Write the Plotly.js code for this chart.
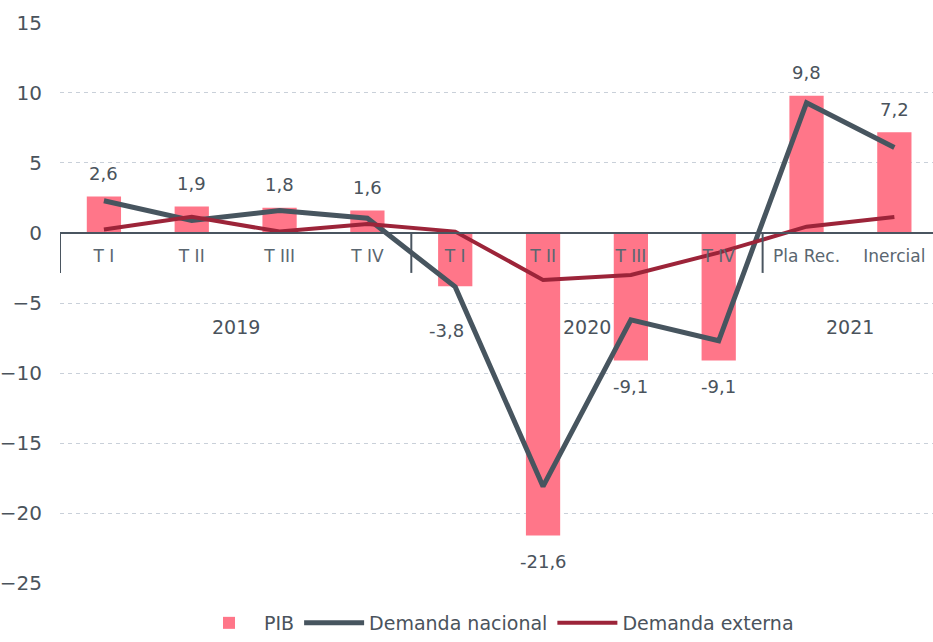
<!DOCTYPE html>
<html>
<head>
<meta charset="utf-8">
<script src="https://cdn.plot.ly/plotly-3.0.1.min.js"></script>
<style>html,body{margin:0;padding:0;background:#fff;}#chart{width:933px;height:642px;}</style>
</head>
<body>
<div id="chart"></div>
<script>
// ---- data ----
const years = ["2019", "2020", "2021"];
const groupSizes = [4, 4, 2];
const quarters = ["T I", "T II", "T III", "T IV", "T I", "T II", "T III", "T IV", "Pla Rec.", "Inercial"];
const pib = [2.6, 1.9, 1.8, 1.6, -3.8, -21.6, -9.1, -9.1, 9.8, 7.2];
const demandaNacional = [2.3, 0.9, 1.6, 1.05, -3.85, -18.1, -6.2, -7.7, 9.3, 6.1];
const demandaExterna = [0.25, 1.15, 0.1, 0.65, 0.1, -3.35, -3.0, -1.4, 0.45, 1.15];

const xs = quarters.map((_, i) => i);
const textColor = "#4a535c";
const font = "DejaVu Sans, sans-serif";

const traces = [
  {type: "bar", name: "PIB", x: xs, y: pib, width: 0.39,
   marker: {color: "#ff7689"}, hoverinfo: "skip"},
  {type: "scatter", mode: "lines", name: "Demanda nacional", x: xs, y: demandaNacional,
   line: {color: "#47555f", width: 5}},
  {type: "scatter", mode: "lines", name: "Demanda externa", x: xs, y: demandaExterna,
   line: {color: "#9c2439", width: 4}}
];

const annotations = [];
// value labels
pib.forEach((v, i) => {
  const isFirstNeg = (i === 4);
  annotations.push({
    x: i, y: v, xref: "x", yref: "y", showarrow: false,
    text: v.toFixed(1).replace(".", ","),
    font: {family: font, size: 18, color: textColor},
    yanchor: "middle",
    yshift: v >= 0 ? 23 : (isFirstNeg ? -44 : -26),
    xshift: isFirstNeg ? -9 : 0
  });
});
// year labels and separators
const shapes = [];
let start = 0;
years.forEach((yr, g) => {
  const n = groupSizes[g];
  annotations.push({
    x: start + (n - 1) / 2, y: -6.7, xref: "x", yref: "y", showarrow: false,
    text: yr, font: {family: font, size: 19, color: textColor}, yanchor: "middle"
  });
  shapes.push({type: "line", xref: "x", yref: "y", x0: start - 0.5, x1: start - 0.5,
    y0: 0, y1: -2.85, line: {color: "#4a5560", width: 2}});
  start += n;
});

const layout = {
  width: 933, height: 642,
  margin: {l: 60, r: 0, t: 22, b: 58, autoexpand: false},
  paper_bgcolor: "#fff", plot_bgcolor: "#fff",
  font: {family: font, color: textColor},
  showlegend: true,
  legend: {orientation: "h", x: 0.5, xanchor: "center", yref: "container", y: 0.0, yanchor: "bottom",
    font: {family: font, size: 19, color: textColor}, itemwidth: 60, traceorder: "normal"},
  xaxis: {
    range: [-0.5, 9.44], tickmode: "array", tickvals: xs, ticktext: quarters,
    anchor: "free", position: 0.625,
    showline: true, linecolor: "#4a5560", linewidth: 2,
    showgrid: false, zeroline: false,
    ticks: "outside", ticklen: 8, tickcolor: "rgba(0,0,0,0)",
    tickfont: {family: font, size: 17, color: "#5a6670"}
  },
  yaxis: {
    range: [-25.07, 15.07], tickvals: [-25, -20, -15, -10, -5, 0, 5, 10, 15],
    showgrid: true, gridcolor: "#c9d0d9", gridwidth: 1, griddash: "4px,4px",
    zeroline: false, showline: false,
    ticks: "outside", ticklen: 13, tickcolor: "rgba(0,0,0,0)",
    tickfont: {family: font, size: 20, color: textColor}
  },
  annotations: annotations,
  shapes: shapes,
  bargap: 0.5
};

Plotly.newPlot("chart", traces, layout, {displayModeBar: false, staticPlot: true});
</script>
</body>
</html>
